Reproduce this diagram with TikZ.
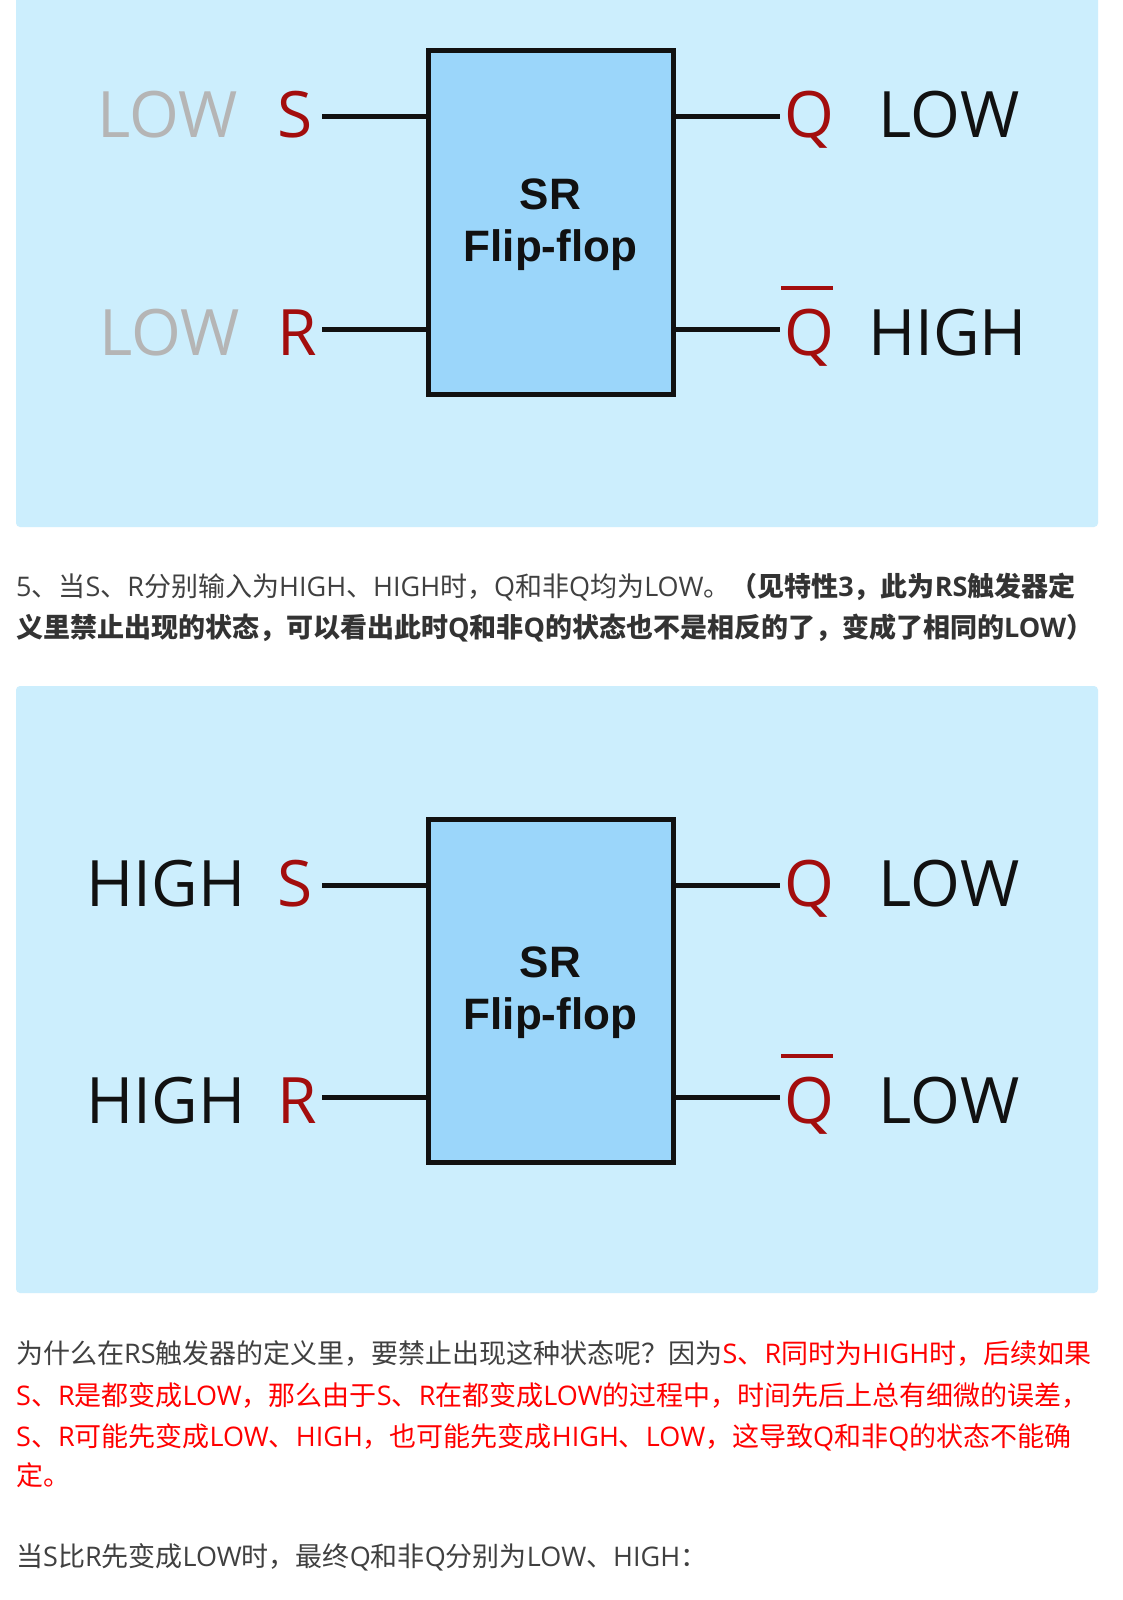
\documentclass[tikz,border=0pt]{standalone}
\usepackage{fontspec}
\newfontfamily\labfont{Open Sans}
\newfontfamily\boxfont{Liberation Sans}
\newfontfamily\cjk{Noto Sans CJK SC}
\newfontfamily\latinfont{Open Sans}
\newcommand\lt[1]{{\latinfont #1}}
\definecolor{panelbg}{HTML}{CCEEFD}
\definecolor{boxblue}{HTML}{9BD6FA}
\definecolor{pinred}{HTML}{A30D0D}
\definecolor{lowgray}{HTML}{B5B5B5}
\definecolor{inkblack}{HTML}{111111}
\definecolor{bodygray}{HTML}{404040}
\definecolor{boldgray}{HTML}{333333}
\definecolor{bodyred}{HTML}{FF0000}
\begin{document}
\begin{tikzpicture}[x=1pt,y=-1pt,
  lbl/.style={inner sep=0pt, anchor=base, text=inkblack, font=\labfont\fontsize{64}{64}\selectfont},
  pin/.style={lbl, text=pinred},
  lowlbl/.style={lbl, text=lowgray},
  wire/.style={draw=inkblack, line width=5pt},
  overbar/.style={draw=pinred, line width=4pt},
  ffbox/.style={draw=inkblack, line width=5pt, fill=boxblue, minimum width=245pt, minimum height=343pt, inner sep=0pt},
  fftext/.style={inner sep=0pt, align=center, text=inkblack, font=\boxfont\bfseries\fontsize{44}{52}\selectfont},
  panel/.style={fill=panelbg, rounded corners=4pt},
  body/.style={anchor=base west, inner sep=0pt, text=bodygray, font=\cjk\fontsize{27}{31}\selectfont}]
\useasboundingbox (0,0) rectangle (1123,1600);
\fill[white] (0,0) rectangle (1123,1600);
\fill[panel] (16,-10) rectangle (1098,527);
\fill[panel] (16,686) rectangle (1098,1293);

% ---------- panel 1 ----------
\node[ffbox] (a-box) at (550.5,222.5) {};
\node[fftext] (a-name) at ([yshift=-2pt]a-box.center) {SR\\Flip-flop};
\node[lowlbl] (a-sv) at (167.5,138) {LOW};
\node[pin] (a-s) at (295.5,138) {S};
\node[lowlbl] (a-rv) at (169.5,355) {LOW};
\node[pin] (a-r) at (297.5,355) {R};
\node[pin] (a-q) at (809.5,138) {Q};
\node[lbl] (a-qv) at (949,138) {LOW};
\node[pin] (a-qb) at (809.5,355) {Q};
\node[lbl] (a-qbv) at (947.5,355) {HIGH};
\coordinate (a-sp) at (322,117);
\coordinate (a-rp) at (322,329);
\coordinate (a-qp) at (780,117);
\coordinate (a-qbp) at (780,329);
\draw[wire] (a-sp) -- (a-sp -| a-box.west);
\draw[wire] (a-rp) -- (a-rp -| a-box.west);
\draw[wire] (a-qp -| a-box.east) -- (a-qp);
\draw[wire] (a-qbp -| a-box.east) -- (a-qbp);
\draw[overbar] (781,288) -- (833,288);

% ---------- panel 2 ----------
\begin{scope}[yshift=-768pt]
\node[ffbox] (b-box) at (550.5,222.5) {};
\node[fftext] (b-name) at ([yshift=-2pt]b-box.center) {SR\\Flip-flop};
\node[lbl] (b-sv) at (166,138) {HIGH};
\node[pin] (b-s) at (295.5,138) {S};
\node[lbl] (b-rv) at (166,355) {HIGH};
\node[pin] (b-r) at (297.5,355) {R};
\node[pin] (b-q) at (809.5,138) {Q};
\node[lbl] (b-qv) at (949,138) {LOW};
\node[pin] (b-qb) at (809.5,355) {Q};
\node[lbl] (b-qbv) at (949,355) {LOW};
\coordinate (b-sp) at (322,117);
\coordinate (b-rp) at (322,329);
\coordinate (b-qp) at (780,117);
\coordinate (b-qbp) at (780,329);
\draw[wire] (b-sp) -- (b-sp -| b-box.west);
\draw[wire] (b-rp) -- (b-rp -| b-box.west);
\draw[wire] (b-qp -| b-box.east) -- (b-qp);
\draw[wire] (b-qbp -| b-box.east) -- (b-qbp);
\draw[overbar] (781,288) -- (833,288);
\end{scope}

% ---------- text ----------
\node[body] (t1) at (16,596) {\lt{5}、当\lt{S}、\lt{R}分别输入为\lt{HIGH}、\lt{HIGH}时，\lt{Q}和非\lt{Q}均为\lt{LOW}。\textcolor{boldgray}{\bfseries （见特性\lt{3}，此为\lt{RS}触发器定}};
\node[body, text=boldgray] (t2) at (16,637) {\bfseries 义里禁止出现的状态，可以看出此时\lt{Q}和非\lt{Q}的状态也不是相反的了，变成了相同的\lt{LOW}）};
\node[body] (p1) at (16,1363) {为什么在\lt{RS}触发器的定义里，要禁止出现这种状态呢？因为\textcolor{bodyred}{\lt{S}、\lt{R}同时为\lt{HIGH}时，后续如果}};
\node[body, text=bodyred] (p2) at (16,1405) {\lt{S}、\lt{R}是都变成\lt{LOW}，那么由于\lt{S}、\lt{R}在都变成\lt{LOW}的过程中，时间先后上总有细微的误差，};
\node[body, text=bodyred] (p3) at (16,1446) {\lt{S}、\lt{R}可能先变成\lt{LOW}、\lt{HIGH}，也可能先变成\lt{HIGH}、\lt{LOW}，这导致\lt{Q}和非\lt{Q}的状态不能确};
\node[body, text=bodyred] (p4) at (16,1485) {定。};
\node[body] (p5) at (16,1566) {当\lt{S}比\lt{R}先变成\lt{LOW}时，最终\lt{Q}和非\lt{Q}分别为\lt{LOW}、\lt{HIGH}：};
\end{tikzpicture}
\end{document}
